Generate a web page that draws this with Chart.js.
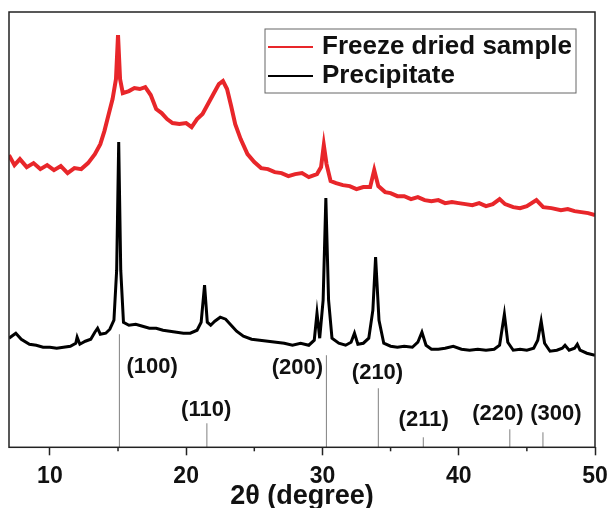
<!DOCTYPE html>
<html>
<head>
<meta charset="utf-8">
<script src="https://cdn.jsdelivr.net/npm/chart.js@4.4.1/dist/chart.umd.min.js"></script>
<style>
  html, body { margin: 0; padding: 0; background: #fff; }
  #wrap { width: 611px; height: 508px; }
</style>
</head>
<body>
<div id="wrap"><canvas id="xrd" width="611" height="508"></canvas></div>
<script>
// 2theta positions and intensities (a.u.)
const freezeX = [7.0, 7.4, 7.8, 8.3, 8.8, 9.3, 9.8, 10.3, 10.8, 11.3, 11.8, 12.3, 12.8, 13.3, 13.7, 14.0, 14.3, 14.6, 14.85, 15.0, 15.15, 15.35, 15.8, 16.2, 16.6, 17.0, 17.4, 17.8, 18.2, 18.6, 19.0, 19.5, 20.0, 20.4, 20.8, 21.2, 21.6, 22.0, 22.4, 22.7, 23.0, 23.3, 23.6, 24.0, 24.5, 25.0, 25.5, 26.0, 26.5, 27.0, 27.5, 28.0, 28.5, 29.0, 29.6, 29.9, 30.1, 30.3, 30.6, 31.0, 31.5, 32.0, 32.5, 33.0, 33.5, 33.8, 34.1, 34.6, 35.0, 35.5, 36.0, 36.5, 37.0, 37.5, 38.0, 38.5, 39.0, 39.5, 40.0, 40.5, 41.0, 41.5, 42.0, 42.5, 43.0, 43.4, 44.0, 44.5, 45.0, 45.7, 46.2, 46.8, 47.5, 48.0, 48.5, 49.0, 49.5, 50.0];
const freezeY = [294, 284, 290, 282, 286, 280, 284, 279, 283, 276, 281, 280, 286, 295, 305, 318, 334, 350, 370, 414, 370, 356, 358, 361, 360, 362, 354, 340, 336, 330, 326, 325, 326, 322, 330, 335, 345, 355, 365, 368, 360, 343, 325, 310, 295, 287, 281, 280, 277, 276, 273, 275, 276, 272, 275, 282, 304, 285, 268, 266, 264, 263, 260, 262, 262, 279, 263, 257, 256, 253, 253, 250, 252, 249, 248, 249, 246, 247, 246, 245, 244, 246, 243, 245, 250, 245, 242, 241, 243, 249, 242, 241, 239, 240, 238, 237, 236, 234];

const precipX = [7.0, 7.5, 7.9, 8.5, 9.0, 9.5, 10.0, 10.5, 11.0, 11.5, 11.9, 12.0, 12.2, 12.6, 13.0, 13.3, 13.5, 13.7, 14.1, 14.4, 14.7, 14.9, 15.05, 15.2, 15.4, 15.8, 16.3, 16.8, 17.3, 17.8, 18.3, 18.8, 19.3, 19.8, 20.3, 20.8, 21.1, 21.35, 21.55, 21.8, 22.1, 22.5, 22.9, 23.3, 23.7, 24.2, 24.8, 25.4, 26.0, 26.6, 27.2, 27.8, 28.4, 29.0, 29.4, 29.6, 29.8, 30.05, 30.25, 30.45, 30.7, 31.2, 31.7, 32.1, 32.35, 32.6, 33.0, 33.4, 33.7, 33.9, 34.15, 34.5, 35.0, 35.5, 36.0, 36.6, 37.0, 37.3, 37.6, 38.0, 38.5, 39.0, 39.6, 40.2, 40.8, 41.4, 42.0, 42.6, 43.0, 43.35, 43.6, 44.0, 44.5, 45.0, 45.5, 45.8, 46.05, 46.3, 46.7, 47.2, 47.6, 47.8, 48.1, 48.5, 48.7, 48.9, 49.4, 50.0];
const precipY = [111, 116, 110, 105, 104, 102, 102, 101, 102, 103, 106, 112, 105, 108, 110, 117, 121, 115, 116, 120, 129, 179, 307, 179, 127, 124, 125, 123, 121, 121, 119, 118, 117, 116, 116, 119, 127, 164, 127, 124, 128, 132, 130, 124, 118, 113, 110, 109, 108, 107, 106, 104, 106, 104, 109, 136, 111, 149, 251, 149, 111, 106, 104, 107, 116, 105, 106, 111, 139, 192, 129, 106, 103, 102, 103, 102, 107, 117, 104, 100, 100, 101, 103, 100, 99, 100, 99, 100, 104, 135, 107, 99, 100, 99, 101, 109, 128, 106, 98, 99, 101, 104, 99, 101, 105, 99, 96, 94];

// reference reflections
const peakLabels = ['(100)', '(110)', '(200)', '(210)', '(211)', '(220)', '(300)'];
const peakPos = [15.1, 21.52, 30.29, 34.1, 37.4, 43.75, 46.18];
const peakTop = [115, 26, 94, 61, 12, 20, 17];
const labelX = [17.5, 21.47, 28.16, 34.04, 37.43, 42.87, 47.13];
const labelY = [82, 39, 81, 76, 29, 35, 35];

const xTicks = [10, 15, 20, 25, 30, 35, 40, 45, 50];
const xTitle = '2θ (degree)';
const yMin = 2, yMax = 437;

const toPoints = (xs, ys) => xs.map((x, i) => ({ x: x, y: ys[i] }));

// sticks: one dataset, broken with null between reflections
const stickPoints = [];
peakPos.forEach((p, i) => {
    stickPoints.push({ x: p, y: yMin }, { x: p, y: peakTop[i] }, { x: p, y: null });
});

const FONT = '"Liberation Sans", Arial, sans-serif';

// frame, minor ticks, axis title, legend and hkl labels
const decorations = {
    id: 'decorations',
    afterDraw(chart) {
        const ctx = chart.ctx;
        const a = chart.chartArea;
        const xs = chart.scales.x, ys = chart.scales.y;
        ctx.save();
        ctx.strokeStyle = '#222';
        ctx.lineWidth = 1.5;
        ctx.strokeRect(a.left, a.top, a.right - a.left, a.bottom - a.top);

        // minor ticks
        [15, 25, 35, 45].forEach(v => {
            const px = xs.getPixelForValue(v);
            ctx.beginPath();
            ctx.moveTo(px, a.bottom);
            ctx.lineTo(px, a.bottom + 4);
            ctx.stroke();
        });

        // axis title
        ctx.fillStyle = '#111';
        ctx.textAlign = 'center';
        ctx.textBaseline = 'alphabetic';
        ctx.font = 'bold 27px ' + FONT;
        ctx.fillText(xTitle, (a.left + a.right) / 2, a.bottom + 57);

        // hkl labels
        ctx.font = 'bold 22px ' + FONT;
        ctx.textBaseline = 'middle';
        peakLabels.forEach((t, i) => {
            ctx.fillText(t, xs.getPixelForValue(labelX[i]), ys.getPixelForValue(labelY[i]));
        });

        // legend
        const bx = a.left + 256, by = a.top + 17, bw = 311, bh = 64;
        ctx.strokeStyle = '#666';
        ctx.lineWidth = 1;
        ctx.strokeRect(bx, by, bw, bh);
        ctx.font = 'bold 26px ' + FONT;
        ctx.textAlign = 'left';
        ctx.textBaseline = 'alphabetic';
        const items = chart.data.datasets.filter(d => d.inLegend);
        items.forEach((d, i) => {
            const y = by + 18 + i * 29;
            ctx.strokeStyle = d.borderColor;
            ctx.lineWidth = 2;
            ctx.beginPath();
            ctx.moveTo(bx + 3, y);
            ctx.lineTo(bx + 48, y);
            ctx.stroke();
            ctx.fillStyle = '#111';
            ctx.fillText(d.label, bx + 57, y + 7);
        });
        ctx.restore();
    }
};

new Chart(document.getElementById('xrd'), {
    type: 'line',
    data: {
        datasets: [{
            label: 'Freeze dried sample',
            data: toPoints(freezeX, freezeY),
            borderColor: '#e8262a',
            borderWidth: 4,
            pointRadius: 0,
            inLegend: true
        }, {
            label: 'Precipitate',
            data: toPoints(precipX, precipY),
            borderColor: '#000',
            borderWidth: 3,
            pointRadius: 0,
            inLegend: true
        }, {
            label: 'reflections',
            data: stickPoints,
            borderColor: '#808080',
            borderWidth: 1,
            pointRadius: 0,
            spanGaps: false
        }]
    },
    options: {
        responsive: false,
        animation: false,
        layout: { padding: { left: 9, right: 16, top: 12, bottom: 9 } },
        plugins: {
            legend: { display: false },
            tooltip: { enabled: false }
        },
        scales: {
            x: {
                type: 'linear',
                min: 7,
                max: 50,
                afterBuildTicks: scale => { scale.ticks = xTicks.map(v => ({ value: v })); },
                ticks: {
                    autoSkip: false,
                    maxRotation: 0,
                    padding: 0,
                    color: '#111',
                    font: { family: FONT, size: 23, weight: 'bold', lineHeight: 1.9 },
                    callback: v => (v % 10 === 0 ? String(v) : '')
                },
                grid: {
                    drawOnChartArea: false,
                    tickLength: 8,
                    tickWidth: 1.5,
                    tickColor: c => (c.tick && c.tick.value % 10 === 0 ? '#222' : 'rgba(0,0,0,0)')
                },
                border: { display: false },
                title: { display: false }
            },
            y: {
                display: false,
                min: yMin,
                max: yMax
            }
        }
    },
    plugins: [decorations]
});
</script>
</body>
</html>
